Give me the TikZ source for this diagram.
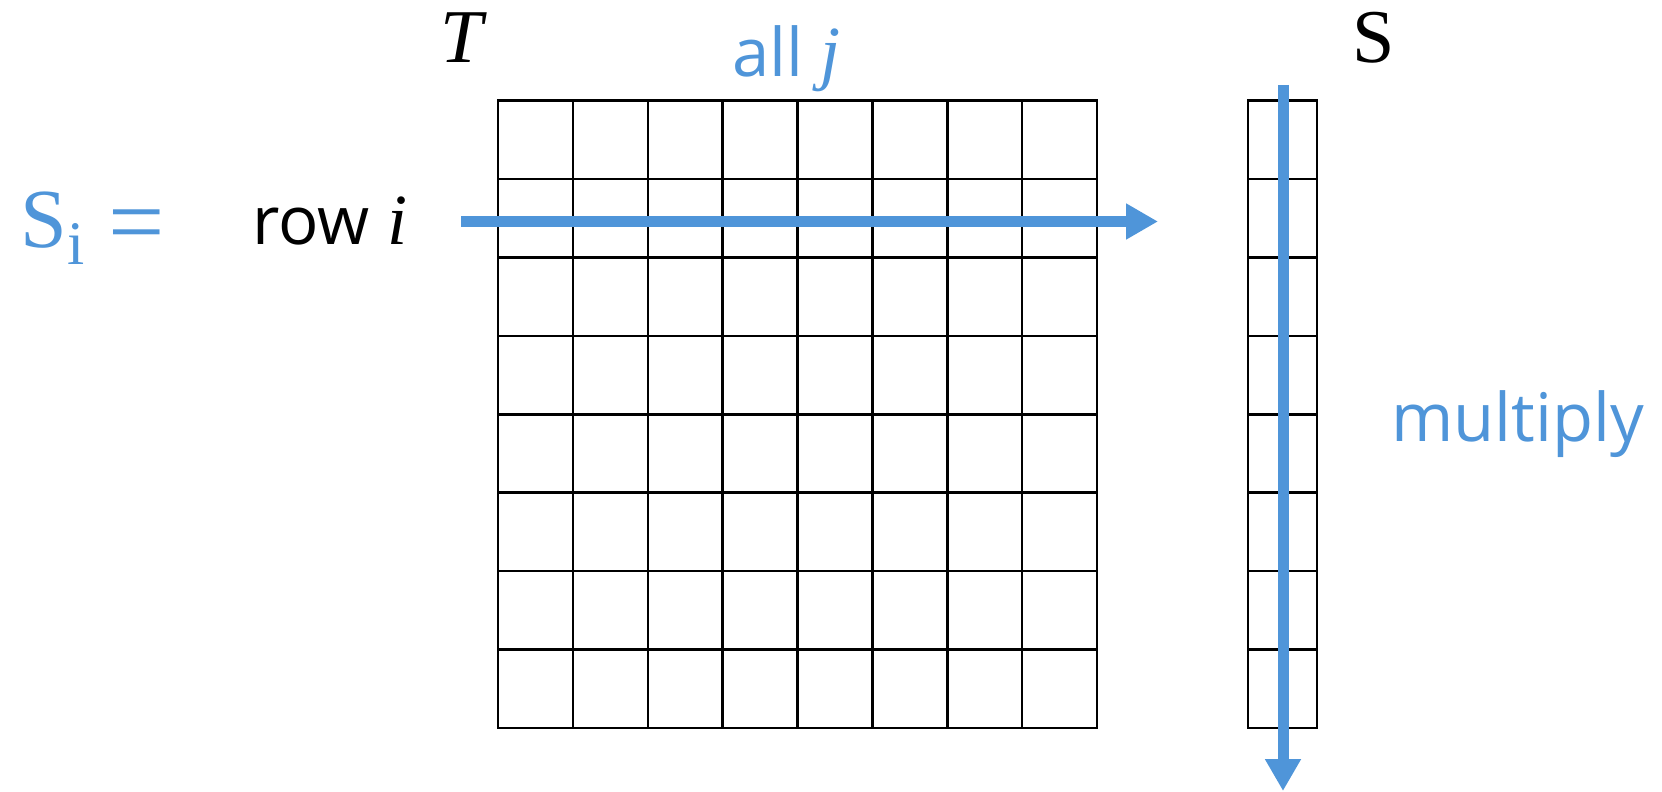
\documentclass[tikz,border=0pt]{standalone}
\usepackage{fontspec}
\setmainfont{Open Sans}
\newfontfamily\varfont{Liberation Serif}
\usetikzlibrary{arrows.meta,positioning}
\definecolor{flow}{HTML}{4F95D9}
\tikzset{
  % gitterlinjer for matricen T og vektoren S
  gridline/.style={draw=black, line width=1.25pt, line cap=rect},
  % blaa gennemloebspile
  sweep/.style={draw=flow, line width=5.5pt,
    -{Triangle[length=16pt,width=17pt]}},
  txt/.style={font=\fontsize{33.5}{40}\selectfont, inner sep=0pt, anchor=base west},
  blue txt/.style={txt, text=flow},
  name txt/.style={txt, font=\fontsize{38}{44}\selectfont\varfont},
}
% serif-tekst i given stoerrelse
\newcommand{\sz}[2]{{\fontsize{#1}{#1}\selectfont\varfont #2}}

\begin{document}
\begin{tikzpicture}[x=0.5pt,y=-0.5pt]
\useasboundingbox (0,0) rectangle (1662,792);

% ----- matrix T: 8 x 8 -----
\foreach \c in {0,...,8}
  \draw[gridline] (498+74.875*\c,100.5) -- (498+74.875*\c,728);
\foreach \r in {0,...,8}
  \draw[gridline] (498,100.5+78.44*\r) -- (1097,100.5+78.44*\r);

% ----- vektor S: 8 x 1 -----
\foreach \x in {1248,1317}
  \draw[gridline] (\x,100.5) -- (\x,728);
\foreach \r in {0,...,8}
  \draw[gridline] (1248,100.5+78.44*\r) -- (1317,100.5+78.44*\r);

% ----- tekster -----
\node[blue txt] (si) at (20,248)
  {\sz{42}{S}\raisebox{-8.5pt}{\sz{31}{i}}\hspace{12pt}\raisebox{-4pt}{\sz{50}{=}}};
\node[txt] (row) at (252,245) {row \sz{36}{\itshape i}};
\node[name txt] (tlbl) at (440,63) {\itshape T};
\node[blue txt] (allj) at (732,77) {all \sz{36}{\itshape j}};
\node[name txt] (slbl) at (1352,63) {S};
\node[blue txt] (mult) at (1391,441) {multiply};

% ----- pile -----
\coordinate (rowstart) at (461,221.5);
\coordinate (rowend) at (1158,221.5);
\coordinate (colstart) at (1283,85);
\coordinate (colend) at (1283,791);
\draw[sweep] (rowstart) -- (rowend);
\draw[sweep] (colstart) -- (colend);

\end{tikzpicture}
\end{document}
